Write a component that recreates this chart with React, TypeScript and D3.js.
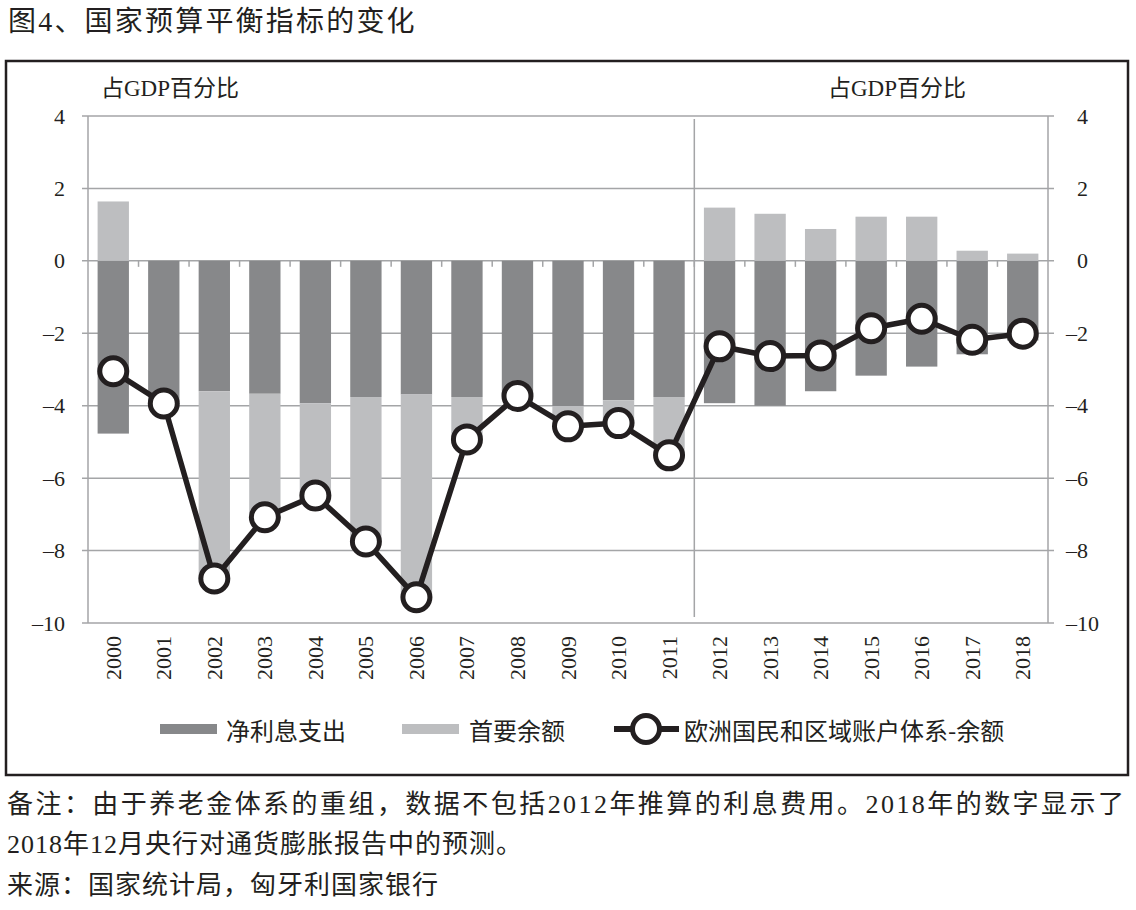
import * as d3 from 'd3';
import * as React from 'react';

const WIDTH = 1136;
const HEIGHT = 910;

const years = [
  '2000', '2001', '2002', '2003', '2004', '2005', '2006', '2007', '2008', '2009',
  '2010', '2011', '2012', '2013', '2014', '2015', '2016', '2017', '2018',
];
// 净利息支出
const netInterest = [
  -4.77, -3.9, -3.6, -3.67, -3.93, -3.76, -3.69, -3.76, -3.7, -4.01,
  -3.85, -3.76, -3.93, -4.0, -3.6, -3.17, -2.92, -2.58, -2.2,
];
// 首要余额
const primaryBalance = [
  1.64, 0, -5.17, -3.41, -2.55, -3.99, -5.6, -1.17, 0, -0.56,
  -0.63, -1.61, 1.47, 1.3, 0.88, 1.22, 1.22, 0.28, 0.2,
];
// 欧洲国民和区域账户体系-余额
const esaBalance = [
  -3.05, -3.94, -8.77, -7.08, -6.48, -7.75, -9.29, -4.93, -3.73, -4.57,
  -4.48, -5.37, -2.36, -2.63, -2.61, -1.86, -1.6, -2.18, -2.01,
];
const yTicks = [4, 2, 0, -2, -4, -6, -8, -10];

const title = '图4、国家预算平衡指标的变化';
const unitLabel = '占GDP百分比';
const legendLabels = ['净利息支出', '首要余额', '欧洲国民和区域账户体系-余额'];
const notes = [
  '备注：由于养老金体系的重组，数据不包括2012年推算的利息费用。2018年的数字显示了',
  '2018年12月央行对通货膨胀报告中的预测。',
  '来源：国家统计局，匈牙利国家银行',
];

const FONT = "'Liberation Serif', 'Noto Sans CJK SC', serif";
const CJK = "'Noto Sans CJK SC', sans-serif";
const DARK = '#87888a';
const LIGHT = '#bdbec0';
const GRID = '#a4a5a7';
const INK = '#231f20';

const LEFT = 88;
const RIGHT = 1048;
const TOP = 116;
const BOTTOM = 623;

export default function App() {
  const ref = React.useRef<SVGSVGElement | null>(null);

  React.useEffect(() => {
    const svg = d3.select(ref.current);
    svg.selectAll('*').remove();

    const x = d3.scaleBand<string>().domain(years).range([LEFT, RIGHT]).paddingInner(0.38).paddingOuter(0.19);
    const y = d3.scaleLinear().domain([-10, 4]).range([BOTTOM, TOP]);
    const cx = (i: number) => (x(years[i]) as number) + x.bandwidth() / 2;
    const step = x.step();

    // title
    svg.append('text')
      .attr('x', 8).attr('y', 31)
      .attr('font-family', FONT).attr('font-size', 28).attr('letter-spacing', 2.2)
      .attr('fill', INK).text(title);

    // frame
    svg.append('rect')
      .attr('x', 6).attr('y', 61).attr('width', 1122).attr('height', 714)
      .attr('fill', 'none').attr('stroke', INK).attr('stroke-width', 2.5);

    // unit labels
    [101, 828].forEach(px => {
      svg.append('text')
        .attr('x', px).attr('y', 96)
        .attr('font-family', FONT).attr('font-size', 23).attr('fill', INK)
        .text(unitLabel);
    });

    // grid
    const grid = svg.append('g');
    grid.selectAll('line.h').data(yTicks).enter().append('line')
      .attr('x1', LEFT - 6).attr('x2', RIGHT + 6)
      .attr('y1', d => y(d)).attr('y2', d => y(d))
      .attr('stroke', GRID).attr('stroke-width', 1.5);
    [LEFT, RIGHT].forEach(px => {
      grid.append('line')
        .attr('x1', px).attr('x2', px).attr('y1', TOP).attr('y2', BOTTOM)
        .attr('stroke', GRID).attr('stroke-width', 1.5);
    });
    grid.append('line')
      .attr('x1', LEFT + step * 12).attr('x2', LEFT + step * 12)
      .attr('y1', TOP + 3).attr('y2', BOTTOM - 6)
      .attr('stroke', GRID).attr('stroke-width', 1.5);
    grid.selectAll('line.t').data(d3.range(1, years.length)).enter().append('line')
      .attr('x1', i => LEFT + step * i).attr('x2', i => LEFT + step * i)
      .attr('y1', y(0)).attr('y2', y(0) + 6)
      .attr('stroke', GRID).attr('stroke-width', 1.5);

    // axis labels
    svg.selectAll('text.yl').data(yTicks).enter().append('text')
      .attr('x', 65).attr('y', d => y(d))
      .attr('text-anchor', 'end').attr('dominant-baseline', 'central')
      .attr('font-family', FONT).attr('font-size', 22).attr('fill', INK)
      .text(d => (d < 0 ? '–' + Math.abs(d) : String(d)));
    svg.selectAll('text.yr').data(yTicks).enter().append('text')
      .attr('x', d => (d < 0 ? 1066 : 1077)).attr('y', d => y(d))
      .attr('dominant-baseline', 'central')
      .attr('font-family', FONT).attr('font-size', 22).attr('fill', INK)
      .text(d => (d < 0 ? '–' + Math.abs(d) : String(d)));
    svg.selectAll('text.xl').data(years).enter().append('text')
      .attr('transform', (d, i) => `translate(${cx(i)},${BOTTOM + 13}) rotate(-90)`)
      .attr('text-anchor', 'end').attr('dominant-baseline', 'central')
      .attr('font-family', FONT).attr('font-size', 22).attr('fill', INK)
      .text(d => d);

    // bars
    const bars = svg.append('g');
    bars.selectAll('rect.dark').data(netInterest).enter().append('rect')
      .attr('x', (d, i) => x(years[i]) as number)
      .attr('width', x.bandwidth())
      .attr('y', y(0))
      .attr('height', d => y(d) - y(0))
      .attr('fill', DARK);
    bars.selectAll('rect.light').data(primaryBalance).enter().append('rect')
      .attr('x', (d, i) => x(years[i]) as number)
      .attr('width', x.bandwidth())
      .attr('y', (d, i) => (d >= 0 ? y(d) : y(netInterest[i])))
      .attr('height', (d, i) => (d >= 0 ? y(0) - y(d) : y(netInterest[i] + d) - y(netInterest[i])))
      .attr('fill', LIGHT);

    // overall balance line
    const line = d3.line<number>().x((d, i) => cx(i)).y(d => y(d));
    svg.append('path')
      .datum(esaBalance)
      .attr('d', line)
      .attr('fill', 'none').attr('stroke', INK).attr('stroke-width', 5.5)
      .attr('stroke-linejoin', 'round');
    svg.selectAll('circle.pt').data(esaBalance).enter().append('circle')
      .attr('cx', (d, i) => cx(i)).attr('cy', d => y(d)).attr('r', 13.5)
      .attr('fill', '#ffffff').attr('stroke', INK).attr('stroke-width', 5);

    // legend
    const ly = 729;
    const legend = svg.append('g');
    legend.append('rect').attr('x', 160).attr('y', ly - 5).attr('width', 57).attr('height', 10).attr('fill', DARK);
    legend.append('rect').attr('x', 402).attr('y', ly - 5).attr('width', 57).attr('height', 10).attr('fill', LIGHT);
    legend.append('line').attr('x1', 614).attr('x2', 679).attr('y1', ly).attr('y2', ly)
      .attr('stroke', INK).attr('stroke-width', 6);
    legend.append('circle').attr('cx', 646).attr('cy', ly).attr('r', 13.5)
      .attr('fill', '#ffffff').attr('stroke', INK).attr('stroke-width', 5);
    [226, 469, 684].forEach((px, i) => {
      legend.append('text')
        .attr('x', px).attr('y', ly)
        .attr('dominant-baseline', 'central')
        .attr('font-family', CJK).attr('font-size', 24).attr('fill', INK)
        .text(legendLabels[i]);
    });

    // notes
    notes.forEach((t, i) => {
      const el = svg.append('text')
        .attr('x', 7).attr('y', 804 + i * 40.5)
        .attr('dominant-baseline', 'central')
        .attr('font-family', FONT).attr('font-size', 26).attr('fill', INK)
        .attr('letter-spacing', 1)
        .text(t);
      if (i === 0) el.attr('textLength', 1118).attr('lengthAdjust', 'spacing');
    });
  }, []);

  return (
    <svg
      ref={ref}
      width={WIDTH}
      height={HEIGHT}
      viewBox={`0 0 ${WIDTH} ${HEIGHT}`}
      style={{ position: 'absolute', left: 0, top: 0, background: '#ffffff' }}
    />
  );
}
